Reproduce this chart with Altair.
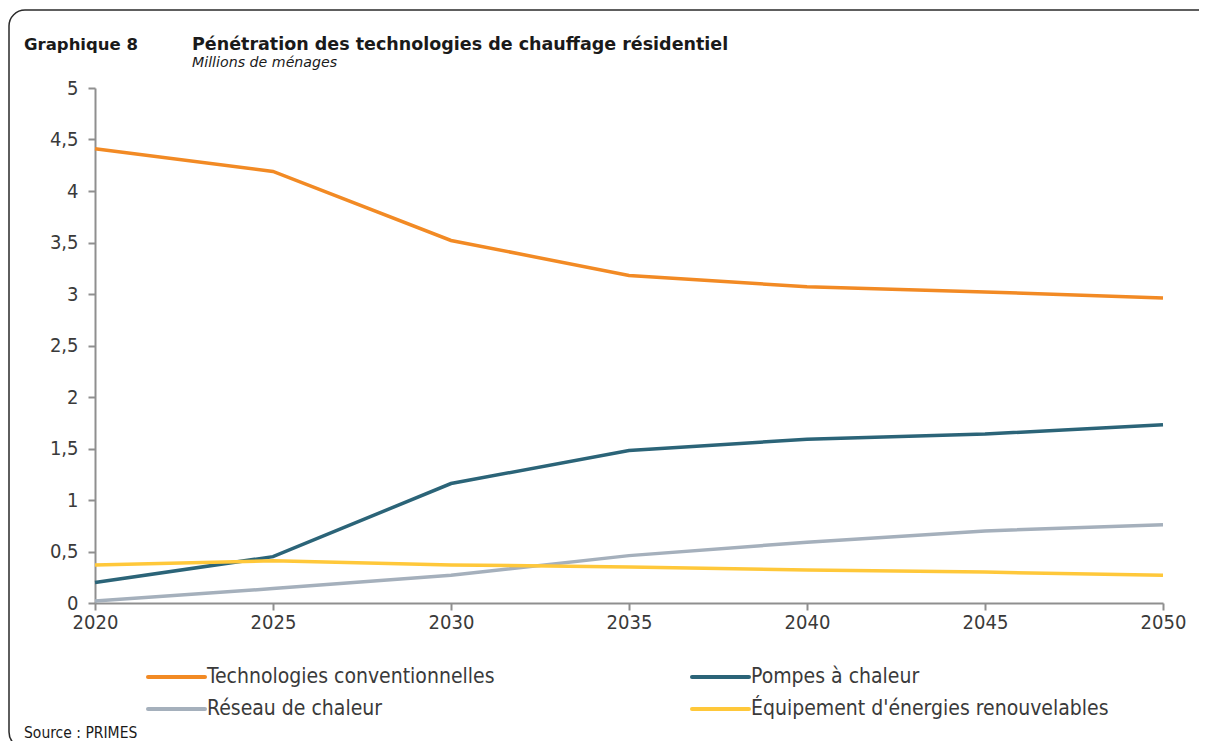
import altair as alt
import pandas as pd

years = [2020, 2025, 2030, 2035, 2040, 2045, 2050]
conventionnelles = [4.41, 4.19, 3.52, 3.18, 3.07, 3.02, 2.96]
pompes = [0.20, 0.45, 1.16, 1.48, 1.59, 1.64, 1.73]
reseau = [0.02, 0.14, 0.27, 0.46, 0.59, 0.70, 0.76]
renouvelables = [0.37, 0.41, 0.37, 0.35, 0.32, 0.30, 0.27]

series_names = ["Technologies conventionnelles", "Pompes à chaleur",
                "Réseau de chaleur", "Équipement d'énergies renouvelables"]
series_values = [conventionnelles, pompes, reseau, renouvelables]
colors = ["#F28A24", "#2B6478", "#A5B0BC", "#FFC83A"]

rows = []
for name, vals in zip(series_names, series_values):
    for y, v in zip(years, vals):
        rows.append({"Année": y, "Valeur": v, "Série": name})
df = pd.DataFrame(rows)

FONT = "DejaVu Sans Condensed, DejaVu Sans"
TXT = "#3a3a3a"
AX = "#8f8f8f"
W, H = 1068, 515

one = pd.DataFrame({"k": [0]})

lines = alt.Chart(df).mark_line(strokeWidth=3.5).encode(
    x=alt.X("Année:Q", scale=alt.Scale(domain=[2020, 2050], nice=False, zero=False),
            axis=alt.Axis(values=years, format="d", title=None, grid=False,
                          domainColor=AX, domainWidth=2, tickColor=AX, tickWidth=2,
                          tickSize=7, labelFont=FONT, labelFontSize=20, labelColor=TXT,
                          labelPadding=2, labelFlush=False)),
    y=alt.Y("Valeur:Q", scale=alt.Scale(domain=[0, 5], nice=False),
            axis=alt.Axis(values=[0, 0.5, 1, 1.5, 2, 2.5, 3, 3.5, 4, 4.5, 5],
                          labelExpr="replace(format(datum.value, '.1~f'), '.', ',')",
                          title=None, grid=False, domainColor=AX, domainWidth=2,
                          tickColor=AX, tickWidth=2, tickSize=7, labelFont=FONT,
                          labelFontSize=20, labelColor=TXT, labelPadding=10)),
    color=alt.Color("Série:N", scale=alt.Scale(domain=series_names, range=colors), legend=None),
    order=alt.Order("Année:Q"),
)

def txt(s, x, y, size, weight="normal", style="normal", font=FONT):
    return alt.Chart(one).mark_text(
        align="left", baseline="alphabetic", font=font, fontSize=size,
        fontWeight=weight, fontStyle=style, color="#1a1a1a"
    ).encode(x=alt.value(x), y=alt.value(y), text=alt.value(s))

border = alt.Chart(one).mark_rect(
    fill=None, stroke="#2a2a2a", strokeWidth=1.5, cornerRadius=16
).encode(x=alt.value(-86), y=alt.value(-78), x2=alt.value(1300), y2=alt.value(660))

titles = [
    txt("Graphique 8", -71, -38, 16.5, weight="bold", font="DejaVu Sans"),
    txt("Pénétration des technologies de chauffage résidentiel", 97, -38, 17.5,
        weight="bold", font="DejaVu Sans"),
    txt("Millions de ménages", 97, -21, 14.2, style="italic", font="DejaVu Sans"),
    txt("Source : PRIMES", -71, 650, 15.5),
]

legend_pos = [(53, 589), (597, 589), (53, 621), (597, 621)]
legend_layers = []
for name, col, (lx, ly) in zip(series_names, colors, legend_pos):
    legend_layers.append(
        alt.Chart(one).mark_rule(stroke=col, strokeWidth=4, strokeCap="round").encode(
            x=alt.value(lx), x2=alt.value(lx + 57), y=alt.value(ly), y2=alt.value(ly))
    )
    legend_layers.append(
        alt.Chart(one).mark_text(align="left", baseline="middle", font=FONT,
                                 fontSize=21, color=TXT).encode(
            x=alt.value(lx + 59), y=alt.value(ly), text=alt.value(name))
    )

chart = alt.layer(border, lines, *titles, *legend_layers).properties(
    width=W, height=H,
    background="white",
    autosize=alt.AutoSizeParams(type="none"),
    padding={"left": 87, "top": 80, "right": 36, "bottom": 138},
).configure_view(strokeWidth=0, stroke="transparent")

chart.save("out.html", embed_options={"renderer": "svg", "actions": False})
